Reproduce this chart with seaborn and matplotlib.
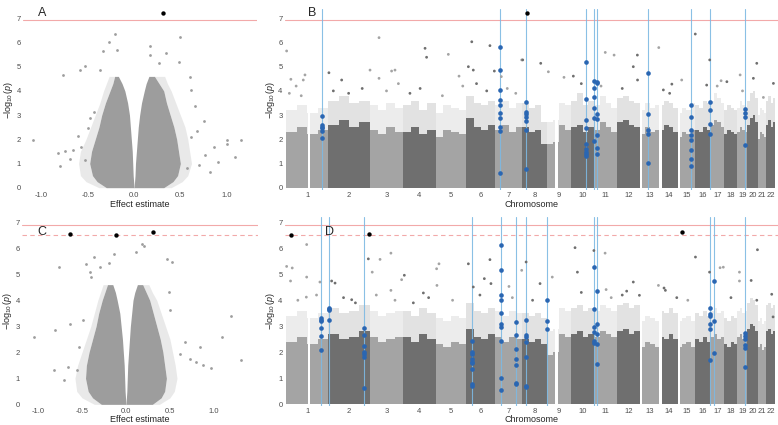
import numpy as np
import matplotlib
matplotlib.use("Agg")
import matplotlib.pyplot as plt
import seaborn as sns

sns.set_style("white")
plt.rcParams['font.family'] = ['Liberation Sans', 'DejaVu Sans']
plt.rcParams['mathtext.fontset'] = 'custom'
plt.rcParams['mathtext.rm'] = 'Liberation Sans'
plt.rcParams['mathtext.it'] = 'Liberation Sans:italic'

# ---------------- datos ----------------
# longitudes de cromosomas (Mb) y huecos sin SNPs (centromeros / brazos p)
chrom_len = [249, 243, 198, 191, 181, 171, 159, 146, 141, 136, 135, 134,
             115, 107, 103, 90, 81, 78, 59, 63, 48, 51]
chrom_gap = {1: (128, 143), 9: (47, 66), 13: (0, 14), 14: (0, 14), 15: (0, 16)}

# umbrales de significacion
thr_solid_top = 6.92
thr_solid_bot = 6.9
thr_dashed_bot = 6.52

# --- Panel A: volcano ---
a_levels = [0.0, 0.25, 0.5, 1.0, 1.5, 2.0, 2.5, 3.0, 3.5, 4.0, 4.3, 4.6]
a_left_outer = [-0.30, -0.40, -0.45, -0.48, -0.46, -0.42, -0.38, -0.35, -0.31, -0.26, -0.23, -0.21]
a_left_inner = [0.0, -0.005, -0.01, -0.015, -0.02, -0.03, -0.04, -0.05, -0.07, -0.10, -0.13, -0.17]
a_right_inner = [0.0, 0.005, 0.01, 0.015, 0.025, 0.035, 0.045, 0.06, 0.08, 0.11, 0.13, 0.16]
a_right_outer = [0.32, 0.42, 0.47, 0.50, 0.48, 0.46, 0.43, 0.39, 0.35, 0.32, 0.27, 0.22]
a_fringe_left = [-0.38, -0.52, -0.58, -0.60, -0.58, -0.52, -0.47, -0.42, -0.37, -0.33, -0.30, -0.27]
a_fringe_right = [0.40, 0.52, 0.58, 0.62, 0.60, 0.58, 0.55, 0.50, 0.45, 0.40, 0.36, 0.33]
a_out_x = [-1.09, -0.77, -0.58, -0.53, -0.37, -0.34, -0.27, -0.21, -0.19, 0.17, 0.17, 0.27, 0.35, 0.50,
           0.48, 0.60, 0.62, 0.66, 0.75, 1.00, 1.00, 1.16, 1.09, 0.91, 0.86, 0.77, 0.70, 0.82, -0.82,
           -0.80, -0.75, -0.69, -0.66, -0.61, -0.57, -0.53, -0.50, -0.48, -0.43, 0.57, 0.61, 0.68]
a_out_p = [1.97, 4.65, 4.86, 5.03, 4.86, 5.65, 6.04, 6.36, 5.69, 5.86, 5.49, 5.17, 5.56, 6.21,
           5.21, 4.58, 4.03, 3.36, 2.75, 1.97, 1.81, 1.97, 1.28, 1.08, 1.69, 1.36, 0.94, 0.63, 1.42,
           0.90, 1.50, 1.18, 1.56, 2.15, 1.67, 1.14, 2.46, 2.88, 3.13, 0.83, 2.11, 2.33]
a_top_x = [0.31]
a_top_p = [7.23]

# --- Panel C: volcano ---
c_levels = [0.0, 0.25, 0.5, 1.0, 1.5, 2.0, 2.5, 3.0, 3.5, 4.0, 4.3, 4.6]
c_left_outer = [-0.28, -0.38, -0.43, -0.46, -0.45, -0.42, -0.38, -0.34, -0.31, -0.27, -0.24, -0.21]
c_left_inner = [0.0, -0.005, -0.01, -0.015, -0.02, -0.03, -0.04, -0.055, -0.07, -0.10, -0.12, -0.15]
c_right_inner = [0.0, 0.005, 0.01, 0.015, 0.02, 0.03, 0.04, 0.05, 0.065, 0.08, 0.10, 0.13]
c_right_outer = [0.30, 0.40, 0.44, 0.46, 0.44, 0.42, 0.39, 0.35, 0.31, 0.27, 0.23, 0.19]
c_fringe_left = [-0.36, -0.50, -0.56, -0.58, -0.55, -0.50, -0.45, -0.40, -0.36, -0.32, -0.29, -0.26]
c_fringe_right = [0.38, 0.50, 0.55, 0.58, 0.56, 0.53, 0.50, 0.45, 0.40, 0.35, 0.30, 0.26]
c_out_x = [-1.05, -0.82, -0.81, -0.76, -0.71, -0.64, -0.66, -0.56, -0.53, -0.49, -0.45, -0.41,
           -0.40, -0.36, -0.30, -0.19, -0.14, 0.11, 0.18, 0.20, 0.47, 0.52, 0.49, 0.50, 0.61,
           0.73, 0.80, 0.84, 0.88, 0.97, 1.09, 1.19, 1.31, 0.67]
c_out_p = [2.59, 1.32, 2.87, 5.27, 0.93, 3.10, 1.44, 1.32, 2.21, 3.23, 5.40, 5.08,
           4.89, 5.66, 5.27, 5.43, 5.79, 5.87, 6.17, 6.10, 5.59, 5.47, 4.32, 3.61, 1.95,
           1.76, 1.63, 2.21, 1.51, 1.40, 2.59, 3.40, 1.72, 2.40]
c_top_x = [-0.64, -0.11, 0.31]
c_top_p = [6.53, 6.49, 6.62]

# --- Panel B: manhattan ---
b_band = [[2.3, 2.5, 2.2, 2.4], [2.6, 2.8, 2.5, 2.7], [2.4, 2.2, 2.5, 2.3], [2.3, 2.5, 2.2, 2.4],
          [2.1, 2.4, 2.3, 2.2], [2.9, 2.5, 2.4, 2.6], [2.4, 2.6, 2.3, 2.5], [2.5, 2.3, 2.4, 1.8],
          [1.8, 1.9, 2.6, 2.4], [2.5, 2.6, 2.3, 2.5], [2.4, 2.7, 2.5, 2.3], [2.7, 2.8, 2.6, 2.5],
          [2.2, 2.5, 2.3, 2.4], [2.4, 2.6, 2.5, 2.3], [2.1, 2.3, 2.2, 2.4], [2.4, 2.3, 2.5, 2.4],
          [2.6, 2.8, 2.7, 2.5], [2.2, 2.4, 2.3, 2.2], [2.3, 2.5, 2.4, 2.3], [2.6, 2.9, 3.0, 2.7],
          [2.0, 2.3, 2.2, 2.1], [2.6, 2.8, 2.5, 2.7]]
b_sparse = [[3.2, 3.4, 3.1, 3.3], [3.6, 3.8, 3.5, 3.6], [3.4, 3.2, 3.5, 3.3], [3.4, 3.6, 3.2, 3.5],
            [3.1, 3.4, 3.3, 3.2], [3.8, 3.5, 3.4, 3.6], [3.4, 3.6, 3.3, 3.5], [3.5, 3.3, 3.4, 2.7],
            [2.7, 2.8, 3.5, 3.4], [3.6, 3.9, 3.4, 3.6], [3.4, 3.8, 3.5, 3.3], [3.7, 3.8, 3.6, 3.5],
            [3.2, 3.5, 3.3, 3.4], [3.4, 3.6, 3.5, 3.3], [3.1, 3.3, 3.2, 3.5], [3.4, 3.3, 3.6, 3.5],
            [3.6, 3.9, 3.7, 3.5], [3.2, 3.4, 3.3, 3.2], [3.3, 3.6, 3.4, 3.3], [3.6, 3.9, 4.0, 3.7],
            [3.0, 3.3, 3.2, 3.1], [3.6, 3.8, 3.5, 3.7]]
b_grey_chr = [1, 1, 1, 1, 2, 2, 3, 3, 3, 3, 3, 4, 4, 5, 5, 6, 6, 6, 6, 6, 7, 7, 8, 8, 9, 9, 10,
              11, 11, 12, 12, 12, 13, 14, 14, 15, 16, 16, 16, 17, 18, 19, 20, 20, 21, 22,
              1, 1, 1, 2, 2, 2, 3, 3, 4, 4, 5, 5, 6, 6, 7, 7, 10, 11, 12, 14, 17, 19]
b_grey_pos = [4, 29, 112, 102, 4, 79, 3, 56, 56, 130, 150, 129, 138, 75, 138, 12, 32, 41, 139, 165,
              155, 35, 2, 108, 7, 99, 13, 65, 117, 119, 95, 120, 111, 23, 73, 24, 1, 68, 86, 63,
              16, 16, 55, 35, 31, 42,
              20, 60, 90, 30, 120, 200, 100, 170, 40, 100, 40, 160, 60, 120, 70, 120, 60, 40, 30,
              60, 40, 30]
b_grey_p = [5.65, 4.48, 4.66, 4.45, 4.75, 4.45, 4.86, 6.20, 4.52, 4.82, 4.86, 5.76, 5.39, 5.51,
            4.61, 5.0, 6.03, 4.86, 5.87, 4.82, 5.28, 4.59, 5.28, 5.14, 4.79, 4.56, 4.61, 5.59, 5.48,
            5.48, 5.0, 4.45, 5.79, 4.04, 4.28, 4.45, 6.35, 4.24, 5.28, 4.42, 4.38, 4.66, 5.14,
            4.52, 3.73, 4.31,
            3.9, 4.2, 3.8, 4.0, 3.9, 4.1, 4.0, 4.3, 3.9, 4.1, 3.8, 4.2, 4.3, 4.0, 4.1, 3.9, 4.3,
            4.2, 4.1, 3.9, 4.2, 4.0]
b_hit_chr = [1, 7, 8, 10, 10, 11, 13, 15, 16, 19]
b_hit_pos = [210, 29, 21, 90, 135, 15, 50, 81, 86, 47]
b_hit_p = [[2.96, 2.59, 2.52, 2.45, 2.36, 2.04],
           [5.81, 4.86, 4.04, 3.62, 3.42, 3.07, 2.87, 2.52, 2.36, 0.62],
           [3.55, 3.14, 3.03, 2.93, 2.77, 2.38, 0.76],
           [5.21, 3.66, 2.80, 2.45, 1.80, 1.60, 1.49, 1.39, 1.31],
           [4.41, 4.12, 3.76, 3.28, 2.87, 1.94],
           [4.35, 4.31, 3.03, 2.84, 2.18, 1.63, 1.39],
           [4.75, 3.04, 2.38, 2.20, 1.02],
           [3.42, 2.93, 2.38, 2.18, 1.97, 1.56, 1.18, 0.91],
           [3.53, 3.21, 2.62, 2.22],
           [3.25, 3.07, 2.91, 1.76]]
b_top_chr = [8]
b_top_pos = [27]
b_top_p = [7.23]

# --- Panel D: manhattan ---
d_band = [[2.4, 2.6, 2.3, 2.5], [2.7, 2.5, 2.6, 2.8], [2.6, 2.4, 2.5, 2.6], [2.6, 2.4, 2.7, 2.5],
          [2.3, 2.2, 2.4, 2.3], [2.9, 2.6, 2.5, 2.7], [2.6, 2.4, 2.6, 2.5], [2.5, 2.4, 2.5, 2.3],
          [1.9, 2.0, 2.7, 2.6], [2.7, 2.8, 2.6, 2.7], [2.6, 2.8, 2.7, 2.6], [2.8, 2.9, 2.7, 2.8],
          [2.2, 2.4, 2.3, 2.2], [2.6, 2.5, 2.7, 2.5], [2.2, 2.3, 2.4, 2.2], [2.5, 2.4, 2.6, 2.4],
          [2.6, 2.7, 2.5, 2.6], [2.3, 2.2, 2.4, 2.3], [2.6, 2.7, 2.5, 2.6], [2.9, 3.1, 3.0, 2.8],
          [2.2, 2.3, 2.1, 2.2], [2.8, 2.9, 2.7, 2.8]]
d_sparse = [[3.4, 3.6, 3.3, 3.5], [3.7, 3.5, 3.6, 3.8], [3.6, 3.4, 3.5, 3.6], [3.6, 3.4, 3.7, 3.5],
            [3.3, 3.2, 3.4, 3.3], [3.9, 3.6, 3.5, 3.7], [3.6, 3.4, 3.6, 3.5], [3.5, 3.4, 3.5, 3.3],
            [2.8, 2.9, 3.7, 3.6], [3.7, 3.8, 3.6, 3.7], [3.6, 3.8, 3.7, 3.6], [3.8, 3.9, 3.7, 3.8],
            [3.2, 3.4, 3.3, 3.2], [3.6, 3.5, 3.7, 3.5], [3.2, 3.3, 3.4, 3.2], [3.5, 3.4, 3.6, 3.4],
            [3.6, 3.7, 3.5, 3.6], [3.3, 3.2, 3.4, 3.3], [3.6, 3.7, 3.5, 3.6], [3.9, 4.1, 4.0, 3.8],
            [3.2, 3.3, 3.1, 3.2], [3.8, 3.9, 3.7, 3.8]]
d_grey_chr = [1, 1, 1, 1, 1, 1, 1, 2, 2, 2, 2, 3, 3, 3, 3, 3, 4, 4, 5, 5, 5, 6, 6, 6, 6, 6, 7, 7,
              8, 8, 9, 10, 10, 10, 11, 11, 12, 12, 12, 13, 14, 14, 14, 16, 16, 17, 17, 19, 19,
              20, 20, 20, 22, 22,
              1, 1, 2, 2, 3, 3, 4, 4, 5, 6, 7, 8, 10, 11, 12, 15, 18]
d_grey_pos = [4, 37, 27, 122, 122, 120, 200, 20, 40, 138, 236, 16, 62, 126, 126, 189, 7, 119, 6, 8,
              20, 12, 41, 106, 139, 145, 80, 155, 22, 104, 30, 23, 37, 134, 64, 70, 95, 56, 131,
              109, 27, 35, 102, 2, 85, 57, 76, 12, 12, 22, 59, 55, 32, 40,
              70, 180, 90, 160, 40, 150, 60, 150, 100, 80, 100, 60, 60, 100, 30, 60, 40]
d_grey_p = [5.30, 5.24, 4.74, 6.14, 4.89, 4.12, 4.70, 4.74, 4.66, 4.02, 5.59, 5.08, 5.57, 5.81,
            4.38, 4.79, 4.96, 4.28, 5.21, 4.57, 5.40, 5.40, 4.51, 4.83, 5.56, 4.64, 4.53, 5.15,
            5.47, 4.64, 4.89, 6.02, 5.08, 5.91, 5.81, 4.41, 4.70, 4.35, 4.19, 4.57, 4.47, 4.38,
            4.10, 5.66, 5.08, 5.25, 5.27, 5.08, 4.74, 4.76, 5.94, 4.00, 4.23, 3.36,
            4.0, 4.2, 4.1, 3.9, 4.2, 4.0, 3.9, 4.1, 4.0, 4.2, 4.1, 4.0, 4.3, 4.1, 4.2, 4.0, 4.1]
d_hit_chr = [1, 2, 2, 6, 7, 7, 8, 8, 10, 11, 16, 17, 19]
d_hit_pos = [206, 2, 210, 31, 31, 121, 21, 145, 135, 15, 86, 21, 45]
d_hit_p = [[3.33, 3.23, 3.19, 2.94, 2.63, 2.08],
           [3.72, 3.65, 3.61, 3.23],
           [2.95, 2.66, 2.23, 2.02, 1.95, 1.83, 0.61],
           [2.44, 2.02, 1.95, 1.76, 1.63, 1.57, 1.34, 0.80, 0.72],
           [6.13, 5.15, 4.19, 4.00, 3.52, 3.10, 2.98, 2.43, 1.00, 0.57],
           [3.17, 2.68, 2.12, 1.74, 1.53, 0.83, 0.78],
           [3.26, 2.66, 2.59, 2.40, 1.83, 0.72, 0.65],
           [4.00, 3.21, 2.89],
           [5.27, 3.68, 2.98, 2.78, 2.44, 2.34],
           [4.36, 3.10, 2.72, 2.31, 1.55],
           [3.72, 3.46, 3.38, 3.08, 2.91, 1.72],
           [4.73, 3.21, 1.98],
           [2.75, 2.62, 2.53, 2.27, 2.18, 1.44]]
d_top_chr = [1, 2, 15]
d_top_pos = [28, 241, 24]
d_top_p = [6.51, 6.54, 6.62]

vol_ticks = [-1.0, -0.5, 0.0, 0.5, 1.0]
vol_labels = ['-1.0', '-0.5', '0.0', '0.5', '1.0']

# ---------------- estilo ----------------
GREY = '#9d9d9d'
LIGHT = '#a4a4a4'
DARK = '#6f6f6f'
BLUE_LINE = '#7db9e3'
BLUE_PT = '#2a66b2'
PINK = '#f2a9a9'
offsets = np.concatenate([[0], np.cumsum(chrom_len)[:-1]])
ylab = r'$-\log_{10}(p)$'


def estilo(ax, ylim):
    sns.despine(ax=ax, left=True, bottom=True)
    ax.set_ylim(*ylim)
    ax.set_yticks(range(8))
    ax.tick_params(length=0, labelsize=5.5, labelcolor='#4d4d4d', pad=1.5)
    ax.set_ylabel(ylab, fontsize=6.5, labelpad=1)


def volcano(ax, lev, lo, li, ri, ro, fl, fr, ox, op, tx, tp, xlim, ylim, letra, ly):
    # nube densa: nucleo solido + borde mas disperso
    ax.fill_betweenx(lev, fl, lo, color=GREY, alpha=0.22, lw=0)
    ax.fill_betweenx(lev, ro, fr, color=GREY, alpha=0.22, lw=0)
    ax.fill_betweenx(lev, lo, li, color=GREY, lw=0)
    ax.fill_betweenx(lev, ri, ro, color=GREY, lw=0)
    sns.scatterplot(x=ox, y=op, ax=ax, color=GREY, s=4, linewidth=0, legend=False)
    sns.scatterplot(x=tx, y=tp, ax=ax, color='black', s=10, linewidth=0, legend=False, zorder=5)
    ax.set_xlim(*xlim)
    ax.set_xticks(vol_ticks)
    ax.set_xticklabels(vol_labels)
    ax.set_xlabel('Effect estimate', fontsize=6.5, labelpad=0.5)
    estilo(ax, ylim)
    ax.text(ly[0], ly[1], letra, transform=ax.transAxes, fontsize=9, va='center', ha='center')


def manhattan(ax, band, sparse, gc, gp, gl, hc, hp, hl, tc, tp, tl, ylim, letra, ly):
    for i, L in enumerate(chrom_len):
        col = LIGHT if i % 2 == 0 else DARK
        edges = offsets[i] + np.linspace(0, L, len(band[i]) + 1)
        tops = band[i] + [band[i][-1]]
        sp = sparse[i] + [sparse[i][-1]]
        ax.fill_between(edges, 0, tops, step='post', color=col, lw=0, zorder=1)
        ax.fill_between(edges, tops, sp, step='post', color=col, alpha=0.2, lw=0, zorder=1)
    # huecos sin SNPs (solo en la zona de la banda)
    for c, (g0, g1) in chrom_gap.items():
        ax.fill_between([offsets[c - 1] + g0, offsets[c - 1] + g1], 0, 4.2,
                        color='white', lw=0, zorder=1.5)
    gx = [offsets[c - 1] + p for c, p in zip(gc, gp)]
    gcol = [LIGHT if c % 2 == 1 else DARK for c in gc]
    ax.scatter(gx, gl, c=gcol, s=4, linewidths=0, zorder=2.5)
    hx, hy = [], []
    for c, p, vals in zip(hc, hp, hl):
        x = offsets[c - 1] + p
        ax.axvline(x, color=BLUE_LINE, lw=0.8, alpha=0.9, zorder=2)
        hx += [x] * len(vals)
        hy += vals
    sns.scatterplot(x=hx, y=hy, ax=ax, color=BLUE_PT, s=11, linewidth=0, legend=False, zorder=3)
    tx = [offsets[c - 1] + p for c, p in zip(tc, tp)]
    sns.scatterplot(x=tx, y=tl, ax=ax, color='black', s=10, linewidth=0, legend=False, zorder=5)
    ax.set_xlim(-8, 2897)
    ax.set_xticks(offsets + np.array(chrom_len) / 2)
    ax.set_xticklabels([str(i + 1) for i in range(len(chrom_len))])
    ax.set_xlabel('Chromosome', fontsize=6.5, labelpad=0.5)
    estilo(ax, ylim)
    ax.text(ly[0], ly[1], letra, transform=ax.transAxes, fontsize=9, va='center', ha='center')


fig = plt.figure(figsize=(7.78, 4.25), dpi=100)
ax_a = fig.add_axes([0.0296, 0.5527, 0.301, 0.427])
ax_b = fig.add_axes([0.3658, 0.5527, 0.6342, 0.427])
ax_c = fig.add_axes([0.0285, 0.0455, 0.303, 0.444])
ax_d = fig.add_axes([0.3658, 0.0455, 0.6342, 0.444])

top_ylim = (-0.1, 7.4)
bot_ylim = (-0.05, 7.2)

volcano(ax_a, a_levels, a_left_outer, a_left_inner, a_right_inner, a_right_outer,
        a_fringe_left, a_fringe_right, a_out_x, a_out_p, a_top_x, a_top_p,
        (-1.2, 1.33), top_ylim, 'A', (0.081, 0.976))

manhattan(ax_b, b_band, b_sparse, b_grey_chr, b_grey_pos, b_grey_p, b_hit_chr, b_hit_pos, b_hit_p,
          b_top_chr, b_top_pos, b_top_p, top_ylim, 'B', (0.056, 0.976))

for ax in (ax_a, ax_b):
    ax.axhline(thr_solid_top, color=PINK, lw=0.8, zorder=1.8)

volcano(ax_c, c_levels, c_left_outer, c_left_inner, c_right_inner, c_right_outer,
        c_fringe_left, c_fringe_right, c_out_x, c_out_p, c_top_x, c_top_p,
        (-1.18, 1.50), bot_ylim, 'C', (0.084, 0.918))

manhattan(ax_d, d_band, d_sparse, d_grey_chr, d_grey_pos, d_grey_p, d_hit_chr, d_hit_pos, d_hit_p,
          d_top_chr, d_top_pos, d_top_p, bot_ylim, 'D', (0.092, 0.918))

for ax in (ax_c, ax_d):
    ax.axhline(thr_solid_bot, color=PINK, lw=0.8, zorder=1.8)
    ax.axhline(thr_dashed_bot, color=PINK, lw=0.8, ls=(0, (4, 3)), zorder=1.8)

fig.savefig('out.png', dpi=100)
